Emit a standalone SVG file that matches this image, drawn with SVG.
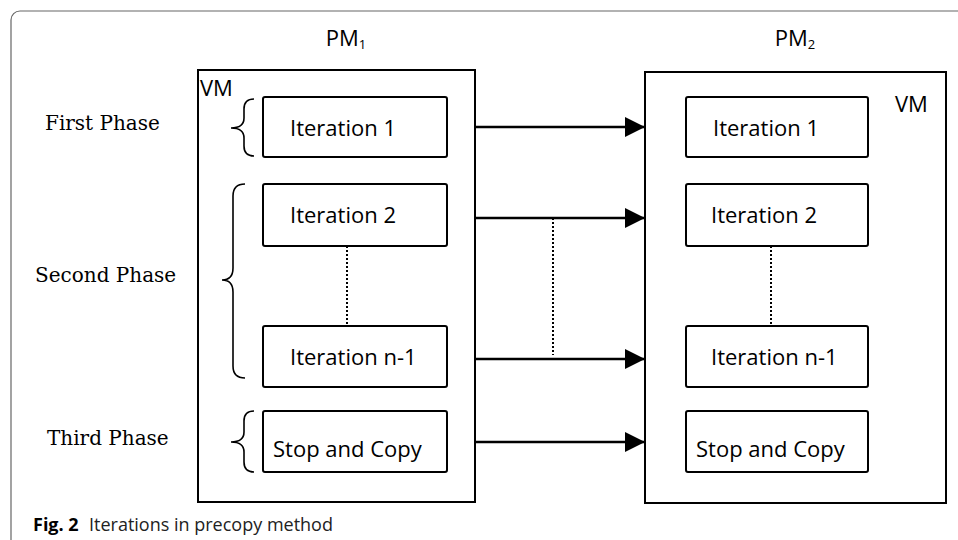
<svg xmlns="http://www.w3.org/2000/svg" width="958" height="540" viewBox="0 0 958 540">
<style>
.frame{fill:none;stroke:#666;stroke-width:1.2}
.box{fill:#fff;stroke:#000;stroke-width:2}
.vm{fill:none;stroke:#000;stroke-width:2}
.t{font-family:"Open Sans","Liberation Sans",sans-serif;font-size:22px;fill:#000}
.ph{font-family:"DejaVu Serif","Liberation Serif",serif;font-size:20px;fill:#000}
.brace{fill:none;stroke:#000;stroke-width:1.6}
.arrow{stroke:#000;stroke-width:2.5;fill:none}
.dot{stroke:#000;stroke-width:2;stroke-dasharray:2 2;fill:none}
.cap{font-family:"Open Sans","Liberation Sans",sans-serif;font-size:18px;fill:#222}
</style>
<defs>
<marker id="ah" markerWidth="8" markerHeight="8" refX="8" refY="4" orient="auto" markerUnits="strokeWidth">
<path d="M0,0 L8,4 L0,8 Z" fill="#000"/>
</marker>
</defs>
<rect class="frame" x="11" y="11" width="980" height="560" rx="9"/>
<g id="pm1">
<text class="t" x="346" y="46" font-size="21" text-anchor="middle">PM<tspan font-size="13" dy="3">1</tspan></text>
<rect class="vm" x="198" y="70" width="277" height="432"/>
<text class="t" x="200" y="96" font-size="20">VM</text>
</g>
<g id="pm2">
<text class="t" x="795" y="46" font-size="21" text-anchor="middle">PM<tspan font-size="13" dy="3">2</tspan></text>
<rect class="vm" x="645" y="72" width="301" height="431"/>
<text class="t" x="895" y="112" font-size="20">VM</text>
</g>
<g id="phase1">
<text class="ph" x="45" y="130">First Phase</text>
<path class="brace" d="M254,99 Q244,99 244,109 L244,118 Q244,128 231,128 Q244,128 244,138 L244,146 Q244,156 254,156"/>
</g>
<g id="phase2">
<text class="ph" x="35" y="282">Second Phase</text>
<path class="brace" d="M245,184 Q233,184 233,196 L233,268 Q233,280 222,280 Q233,280 233,292 L233,366 Q233,378 245,378"/>
</g>
<g id="phase3">
<text class="ph" x="47" y="445">Third Phase</text>
<path class="brace" d="M254,411 Q244,411 244,421 L244,432 Q244,442 231,442 Q244,442 244,452 L244,462 Q244,472 254,472"/>
</g>
<g id="src-it1"><rect class="box" x="263" y="97" width="184" height="60" rx="2"/><text class="t" x="290" y="136">Iteration 1</text></g>
<g id="src-it2"><rect class="box" x="263" y="184" width="184" height="62" rx="2"/><text class="t" x="290" y="223">Iteration 2</text></g>
<g id="src-itn"><rect class="box" x="263" y="326" width="184" height="61" rx="2"/><text class="t" x="290" y="365">Iteration n-1</text></g>
<g id="src-stop"><rect class="box" x="263" y="411" width="184" height="61" rx="2"/><text class="t" x="273" y="457">Stop and Copy</text></g>
<g id="dst-it1"><rect class="box" x="686" y="97" width="182" height="60" rx="2"/><text class="t" x="713" y="136">Iteration 1</text></g>
<g id="dst-it2"><rect class="box" x="686" y="184" width="182" height="62" rx="2"/><text class="t" x="711" y="223">Iteration 2</text></g>
<g id="dst-itn"><rect class="box" x="686" y="326" width="182" height="61" rx="2"/><text class="t" x="711" y="365">Iteration n-1</text></g>
<g id="dst-stop"><rect class="box" x="686" y="411" width="182" height="61" rx="2"/><text class="t" x="696" y="457">Stop and Copy</text></g>
<g id="connectors">
<line class="arrow" x1="475" y1="127" x2="645" y2="127" marker-end="url(#ah)"/>
<line class="arrow" x1="475" y1="218" x2="645" y2="218" marker-end="url(#ah)"/>
<line class="arrow" x1="475" y1="359" x2="645" y2="359" marker-end="url(#ah)"/>
<line class="arrow" x1="475" y1="442" x2="645" y2="442" marker-end="url(#ah)"/>
<line class="dot" x1="347" y1="246" x2="347" y2="326"/>
<line class="dot" x1="771" y1="246" x2="771" y2="326"/>
<line class="dot" x1="553" y1="218" x2="553" y2="355"/>
</g>
<text class="cap" x="33" y="531"><tspan font-weight="bold" fill="#000">Fig. 2</tspan><tspan x="89">Iterations in precopy method</tspan></text>
</svg>
